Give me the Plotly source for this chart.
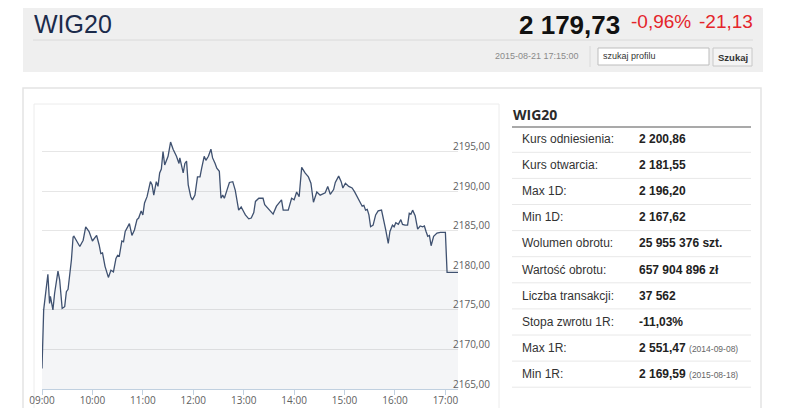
import plotly.graph_objects as go

# intraday WIG20, 2015-08-21
day = "2015-08-21"
times = [
    "09:00", "09:02", "09:07", "09:09", "09:10", "09:13", "09:15", "09:19", "09:21", "09:24",
    "09:27", "09:29", "09:31", "09:33", "09:35", "09:37", "09:38", "09:45", "09:49", "09:52",
    "09:56", "10:00", "10:02", "10:05", "10:08", "10:10", "10:12", "10:15", "10:19", "10:22",
    "10:25", "10:28", "10:30", "10:32", "10:35", "10:37", "10:39", "10:42", "10:44", "10:47",
    "10:50", "10:53", "10:55", "10:58", "11:00", "11:02", "11:05", "11:09", "11:11", "11:13",
    "11:16", "11:18", "11:20", "11:22", "11:24", "11:26", "11:30", "11:33", "11:36", "11:40",
    "11:43", "11:44", "11:48", "11:50", "11:52", "11:54", "11:57", "11:59", "12:02", "12:05",
    "12:08", "12:10", "12:13", "12:15", "12:18", "12:21", "12:23", "12:26", "12:28", "12:31",
    "12:33", "12:35", "12:37", "12:40", "12:43", "12:47", "12:50", "12:54", "12:57", "13:00",
    "13:02", "13:06", "13:09", "13:12", "13:14", "13:18", "13:23", "13:25", "13:29", "13:35",
    "13:39", "13:45", "13:47", "13:53", "13:57", "14:00", "14:03", "14:06", "14:09", "14:13",
    "14:17", "14:20", "14:23", "14:27", "14:31", "14:37", "14:40", "14:43", "14:47", "14:49",
    "14:53", "14:56", "14:58", "15:01", "15:05", "15:09", "15:12", "15:15", "15:18", "15:21",
    "15:23", "15:25", "15:27", "15:29", "15:31", "15:34", "15:37", "15:40", "15:44", "15:46",
    "15:49", "15:52", "15:54", "15:57", "15:59", "16:01", "16:04", "16:07", "16:09", "16:12",
    "16:15", "16:17", "16:19", "16:21", "16:24", "16:27", "16:30", "16:33", "16:35", "16:37",
    "16:39", "16:41", "16:43", "16:46", "16:50", "16:54", "17:00", "17:02", "17:15",
]
prices = [
    2167.6, 2175.0, 2179.5, 2175.8, 2176.7, 2175.0, 2177.1, 2179.9, 2178.8, 2175.2,
    2175.4, 2177.3, 2177.6, 2179.6, 2181.3, 2184.2, 2184.3, 2183.0, 2183.8, 2185.5,
    2184.9, 2183.7, 2184.0, 2184.4, 2183.2, 2182.1, 2182.2, 2180.5, 2179.1, 2180.0,
    2179.8, 2181.5, 2181.9, 2181.8, 2183.7, 2183.6, 2184.9, 2185.5, 2185.9, 2184.4,
    2185.1, 2186.4, 2186.6, 2187.5, 2187.0, 2188.5, 2189.3, 2191.2, 2190.8, 2189.5,
    2191.2, 2190.6, 2192.3, 2192.8, 2195.0, 2193.3, 2194.4, 2196.2, 2195.3, 2194.4,
    2193.5, 2194.2, 2192.3, 2193.5, 2193.8, 2190.8, 2189.3, 2188.9, 2189.5, 2191.8,
    2191.8, 2192.9, 2194.4, 2193.9, 2194.4, 2195.3, 2194.2, 2193.5, 2192.9, 2192.5,
    2189.1, 2189.5, 2189.1, 2190.1, 2191.1, 2191.2, 2190.1, 2187.6, 2188.0, 2187.4,
    2187.0, 2186.5, 2186.6, 2187.3, 2188.7, 2189.1, 2189.1, 2188.3, 2187.8, 2187.1,
    2188.1, 2188.9, 2187.6, 2187.6, 2189.1, 2188.9, 2189.9, 2189.3, 2193.0, 2192.3,
    2191.8, 2191.0, 2188.6, 2189.9, 2189.5, 2189.8, 2190.6, 2189.6, 2190.2, 2191.1,
    2191.9, 2191.2, 2190.4, 2191.0, 2190.6, 2190.4, 2189.9, 2189.3, 2188.9, 2188.1,
    2188.2, 2187.6, 2187.7, 2187.0, 2185.5, 2185.7, 2187.0, 2187.5, 2187.6, 2186.4,
    2185.1, 2183.4, 2184.9, 2185.7, 2185.5, 2186.0, 2185.8, 2186.4, 2185.8, 2185.7,
    2185.7, 2187.2, 2187.1, 2187.6, 2186.9, 2185.2, 2185.6, 2185.5, 2185.6, 2184.9,
    2184.3, 2184.4, 2183.1, 2184.3, 2184.7, 2184.8, 2184.8, 2179.73, 2179.73,
]
hour_ticks = ["09:00", "10:00", "11:00", "12:00", "13:00", "14:00", "15:00", "16:00", "17:00"]
y_ticks = [2165, 2170, 2175, 2180, 2185, 2190, 2195, 2200]

table_labels = ["Kurs odniesienia:", "Kurs otwarcia:", "Max 1D:", "Min 1D:", "Wolumen obrotu:",
                "Wartość obrotu:", "Liczba transakcji:", "Stopa zwrotu 1R:", "Max 1R:", "Min 1R:"]
table_values = ["2 200,86", "2 181,55", "2 196,20", "2 167,62", "25 955 376 szt.",
                "657 904 896 zł", "37 562", "-11,03%", "2 551,47", "2 169,59"]
table_notes = ["", "", "", "", "", "", "", "", "(2014-09-08)", "(2015-08-18)"]

last_price = "2 179,73"
change_pct = "-0,96%"
change_abs = "-21,13"
timestamp = "2015-08-21 17:15:00"

# the page body has an 8px margin, so the figure is 770x400 and page coords are shifted by 8
OFF = 8
W, H = 786 - 2 * OFF, 416 - 2 * OFF


def px(x):
    return (x - OFF) / W


def py(y):
    return 1 - (y - OFF) / H


ARIAL = "Liberation Sans, Arial, sans-serif"
OPEN = "Open Sans, sans-serif"

fig = go.Figure()
fig.add_trace(go.Scatter(
    x=[day + " " + t for t in times],
    y=prices,
    mode="lines",
    line=dict(color="#3f5170", width=1.3),
    fill="tozeroy",
    fillcolor="rgba(61,79,110,0.055)",
    hoverinfo="skip",
    showlegend=False,
))


def rect(x0, y0, x1, y1, fill, line_color=None, lw=1):
    return dict(type="rect", xref="paper", yref="paper", x0=px(x0), x1=px(x1), y0=py(y1), y1=py(y0),
                fillcolor=fill, line=dict(color=line_color or fill, width=lw if line_color else 0),
                layer="below")


def hline(x0, x1, y, color, lw=1):
    return dict(type="line", xref="paper", yref="paper", x0=px(x0), x1=px(x1), y0=py(y), y1=py(y),
                line=dict(color=color, width=lw), layer="below")


shapes = [
    rect(23, 0, 763, 72, "#efefef"),
    hline(33, 753, 40, "#dadada"),
    dict(type="line", xref="paper", yref="paper", x0=px(590), x1=px(590), y0=py(67), y1=py(46),
         line=dict(color="#dadada", width=1), layer="below"),
    rect(598, 48, 709, 65, "white", "#bdbdbd"),
    rect(713, 48, 752, 66, "#f4f4f4", "#c8c8c8"),
    rect(23, 88, 761, 430, "white", "#e4e4e4", 1.5),
    rect(34, 104, 499, 430, "white", "#ececec"),
    hline(512, 751, 127, "#555555", 1.2),
]
row_y = [139 + 26.1 * i for i in range(len(table_labels))]
for ry in row_y:
    shapes.append(hline(512, 751, ry + 13.3, "#e8e8e8"))

ann = [
    dict(text="WIG20", x=px(32), y=py(8), xanchor="left", yanchor="top",
         font=dict(family=ARIAL, size=25, color="#1b2b4b")),
    dict(text="<b>" + last_price + "</b>", x=px(622), y=py(8), xanchor="right", yanchor="top",
         font=dict(family=ARIAL, size=26, color="#111111")),
    dict(text=change_pct, x=px(629), y=py(9), xanchor="left", yanchor="top",
         font=dict(family=ARIAL, size=19, color="#e4252b")),
    dict(text=change_abs, x=px(755), y=py(9), xanchor="right", yanchor="top",
         font=dict(family=ARIAL, size=19, color="#e4252b")),
    dict(text=timestamp, x=px(581), y=py(56.5), xanchor="right", yanchor="middle",
         font=dict(family=ARIAL, size=9, color="#8a8a8a")),
    dict(text="szukaj profilu", x=px(601), y=py(56.5), xanchor="left", yanchor="middle",
         font=dict(family=ARIAL, size=9, color="#333333")),
    dict(text="<b>Szukaj</b>", x=px(732.5), y=py(57), xanchor="center", yanchor="middle",
         font=dict(family=ARIAL, size=9.5, color="#333333")),
    dict(text="<b>WIG20</b>", x=px(511), y=py(114), xanchor="left", yanchor="middle",
         font=dict(family=OPEN, size=14, color="#2a2a2a")),
]
for ry, lab, val, note in zip(row_y, table_labels, table_values, table_notes):
    ann.append(dict(text=lab, x=px(520), y=py(ry), xanchor="left", yanchor="middle",
                    font=dict(family=ARIAL, size=12, color="#333333")))
    txt = "<b>" + val + "</b>"
    if note:
        txt += " <span style='font-size:8.5px;color:#666666'>" + note + "</span>"
    ann.append(dict(text=txt, x=px(637), y=py(ry), xanchor="left", yanchor="middle",
                    font=dict(family=ARIAL, size=12, color="#222222")))
for a in ann:
    a.update(xref="paper", yref="paper", showarrow=False)

fig.update_layout(
    width=W, height=H,
    autosize=False,
    margin=dict(l=0, r=0, t=0, b=0, pad=0, autoexpand=False),
    paper_bgcolor="white",
    plot_bgcolor="rgba(0,0,0,0)",
    shapes=shapes,
    annotations=ann,
    showlegend=False,
    xaxis=dict(
        domain=[px(42), px(458)],
        range=[day + " 09:00", day + " 17:15"],
        tickvals=[day + " " + t for t in hour_ticks],
        ticktext=hour_ticks,
        showgrid=False,
        showline=True, linecolor="#c0d0e0", linewidth=1,
        ticks="outside", ticklen=5, tickcolor="#c0d0e0",
        ticklabelstandoff=-3,
        tickfont=dict(family=OPEN, size=10, color="#606060"),
        automargin=False,
        fixedrange=True,
    ),
    yaxis=dict(
        domain=[py(389), py(112)],
        range=[2165, 2200],
        side="right",
        tickvals=y_ticks,
        ticktext=[("%.2f" % v).replace(".", ",") if v < 2200 else "" for v in y_ticks],
        showgrid=True, gridcolor="#e6e6e6", gridwidth=1,
        zeroline=False,
        ticks="",
        ticklabelstandoff=-6,
        ticklabelshift=-5,
        tickfont=dict(family=OPEN, size=10, color="#606060"),
        automargin=False,
        fixedrange=True,
    ),
)

fig.write_html("out.html")
